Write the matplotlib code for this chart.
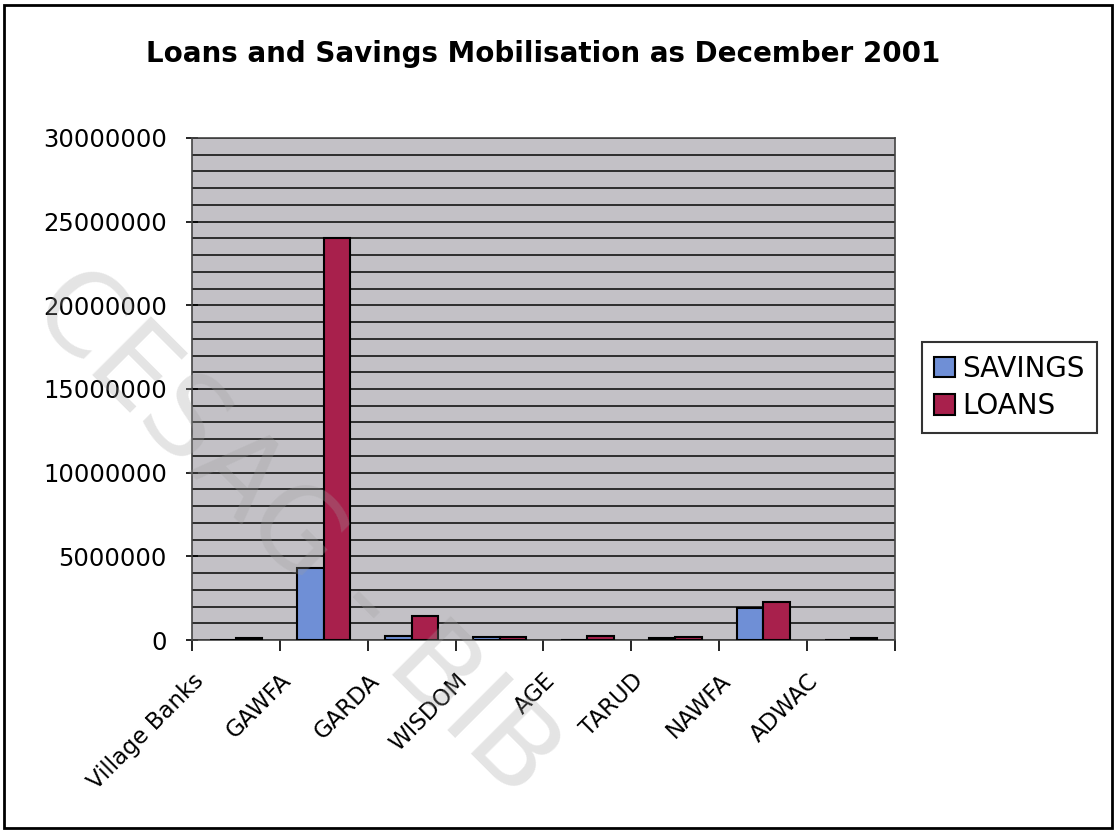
import matplotlib.pyplot as plt
import numpy as np
from matplotlib.patches import Rectangle
from matplotlib.transforms import ScaledTranslation

plt.rcParams['font.family'] = ['DejaVu Sans']

groups = ['Village Banks', 'GAWFA', 'GARDA', 'WISDOM', 'AGE', 'TARUD', 'NAWFA', 'ADWAC']
savings = [20000, 4300000, 220000, 200000, 30000, 120000, 1900000, 20000]
loans = [140000, 24000000, 1460000, 200000, 220000, 200000, 2300000, 120000]

fig = plt.figure(figsize=(11.16, 8.31), dpi=100)
ax = fig.add_axes([0.172, 0.2298, 0.630, 0.6042])

x = np.arange(len(groups))
w = 0.3
ax.bar(x - w/2, savings, w, color='#6f8fd6', edgecolor='black', linewidth=1.5, label='SAVINGS', zorder=3)
ax.bar(x + w/2, loans, w, color='#a8204c', edgecolor='black', linewidth=1.5, label='LOANS', zorder=3)

ax.set_facecolor('#c3c1c6')
ax.set_xlim(-0.5, len(groups) - 0.5)
ax.set_ylim(0, 30000000)
ax.set_yticks(np.arange(0, 30000001, 5000000))
ax.set_yticks(np.arange(0, 30000001, 1000000), minor=True)
ax.yaxis.set_major_formatter(plt.FuncFormatter(lambda v, p: '%d' % v))
ax.grid(True, which='both', axis='y', color='#222222', linewidth=1.3, zorder=1)
ax.set_axisbelow(True)

# category labels sit on the boundary ticks, like the original
ax.set_xticks(np.arange(len(groups) + 1) - 0.5)
ax.set_xticklabels(groups + [''], rotation=45, ha='right', va='top', rotation_mode='anchor', fontsize=16.5)
shift = ScaledTranslation(-3 / 100, 0, fig.dpi_scale_trans)
for lab in ax.get_xticklabels():
    lab.set_transform(lab.get_transform() + shift)
ax.tick_params(axis='x', length=8, width=1.2, direction='out', pad=13)
ax.tick_params(axis='y', which='major', length=8, width=1.2, direction='inout', labelsize=17.5, pad=14)
ax.tick_params(axis='y', which='minor', length=0)
for s in ax.spines.values():
    s.set_color('#444444')
    s.set_linewidth(1.2)

ax.set_title('Loans and Savings Mobilisation as December 2001', fontsize=20, fontweight='bold', pad=55)

leg = ax.legend(loc='center left', bbox_to_anchor=(1.038, 0.503), fontsize=20, frameon=True,
                fancybox=False, edgecolor='black', handlelength=0.75, handleheight=0.75,
                handletextpad=0.25, borderpad=0.45, labelspacing=0.35, borderaxespad=0)
leg.get_frame().set_linewidth(1.5)

# watermark
fig.text(0.08, 0.7, 'CESAG - BIB', rotation=-45, fontsize=82, color='#a0a0a0',
         alpha=0.28, ha='left', va='top', rotation_mode='anchor', zorder=10)

fig.add_artist(Rectangle((0.004, 0.004), 0.992, 0.99, transform=fig.transFigure,
                         fill=False, edgecolor='black', linewidth=2))

fig.savefig('out.png', dpi=100)
